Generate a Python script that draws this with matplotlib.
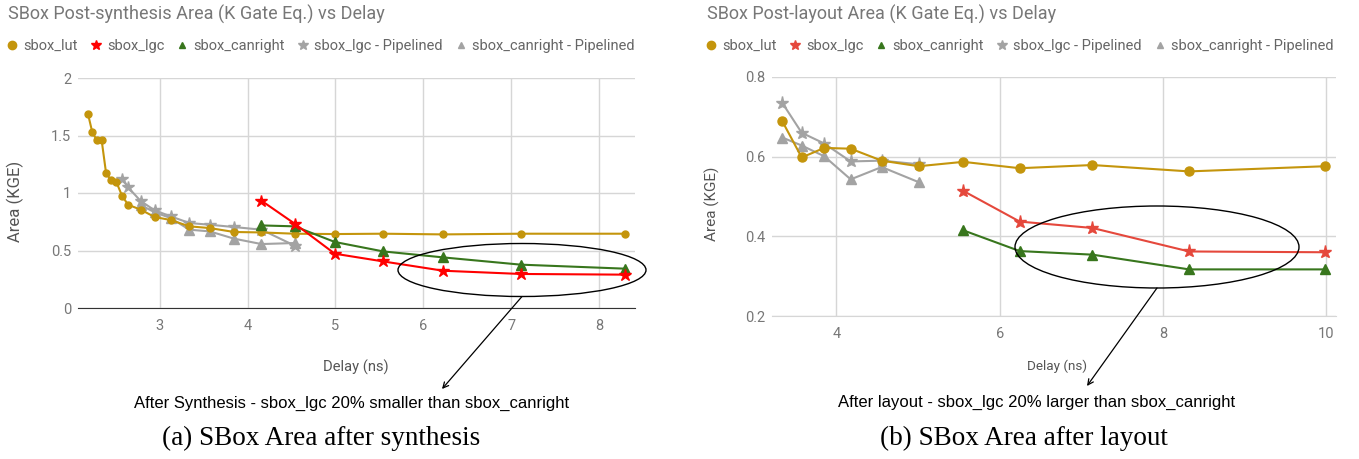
import matplotlib.pyplot as plt
from matplotlib.patches import Ellipse
from matplotlib.lines import Line2D

plt.rcParams['font.family'] = ['Roboto', 'DejaVu Sans']

# ---- post-synthesis data ----
syn_lut_x = [2.183, 2.233, 2.286, 2.339, 2.389, 2.446, 2.507, 2.571, 2.64, 2.784, 2.943,
             3.125, 3.338, 3.57, 3.846, 4.158, 4.537, 4.993, 5.544, 6.227, 7.108, 8.296]
syn_lut_y = [1.69, 1.527, 1.458, 1.46, 1.176, 1.11, 1.095, 0.976, 0.898, 0.855, 0.791,
             0.765, 0.71, 0.695, 0.661, 0.657, 0.646, 0.643, 0.646, 0.64, 0.646, 0.646]
syn_lgc_x = [4.158, 4.537, 4.993, 5.544, 6.227, 7.108, 8.296]
syn_lgc_y = [0.933, 0.733, 0.472, 0.405, 0.324, 0.296, 0.29]
syn_can_x = [4.158, 4.537, 4.993, 5.544, 6.227, 7.108, 8.296]
syn_can_y = [0.718, 0.71, 0.574, 0.492, 0.44, 0.377, 0.342]
syn_lgc_p_x = [2.575, 2.64, 2.784, 2.943, 3.125, 3.338, 3.57, 3.846, 4.158, 4.537]
syn_lgc_p_y = [1.121, 1.049, 0.93, 0.849, 0.797, 0.739, 0.724, 0.704, 0.681, 0.542]
syn_can_p_x = [2.784, 2.943, 3.125, 3.338, 3.57, 3.846, 4.158, 4.537]
syn_can_p_y = [0.895, 0.832, 0.782, 0.681, 0.666, 0.603, 0.556, 0.565]

# ---- post-layout data ----
lay_lut_x = [3.336, 3.574, 3.85, 4.174, 4.554, 5.007, 5.554, 6.245, 7.136, 8.32, 9.99]
lay_lut_y = [0.689, 0.598, 0.622, 0.62, 0.59, 0.576, 0.587, 0.571, 0.579, 0.563, 0.576]
lay_lgc_x = [5.554, 6.245, 7.136, 8.32, 9.99]
lay_lgc_y = [0.514, 0.437, 0.421, 0.362, 0.36]
lay_can_x = [5.554, 6.245, 7.136, 8.32, 9.99]
lay_can_y = [0.415, 0.363, 0.354, 0.317, 0.317]
lay_lgc_p_x = [3.336, 3.574, 3.85, 4.174, 4.554, 5.007]
lay_lgc_p_y = [0.735, 0.66, 0.633, 0.588, 0.59, 0.581]
lay_can_p_x = [3.336, 3.574, 3.85, 4.174, 4.554, 5.007]
lay_can_p_y = [0.648, 0.628, 0.601, 0.543, 0.574, 0.536]

labels = ["sbox_lut", "sbox_lgc", "sbox_canright", "sbox_lgc - Pipelined", "sbox_canright - Pipelined"]
gold = "#c4950c"
green = "#38761d"
gray = "#a3a3a3"
txt_gray = "#777777"

W, H = 1359, 459
fig = plt.figure(figsize=(W / 100, H / 100), dpi=100)


def box(x0, y0, x1, y1):
    return [x0 / W, 1 - y1 / H, (x1 - x0) / W, (y1 - y0) / H]


def fx(x):
    return x / W


def fy(y):
    return 1 - y / H


def style(ax, xlim, ylim, xticks, yticks, ytl, bottom_color, xl_size, yl_size, xl_pos, yl_pos):
    ax.set_xlim(*xlim)
    ax.set_ylim(*ylim)
    ax.set_xticks(xticks)
    ax.set_yticks(yticks)
    ax.set_yticklabels(ytl)
    ax.grid(True, color="#d6d6d6", lw=1)
    ax.set_axisbelow(True)
    for s in ["top", "right", "left"]:
        ax.spines[s].set_visible(False)
    ax.spines["bottom"].set_color(bottom_color)
    ax.tick_params(length=0, labelsize=10.5, colors=txt_gray)
    ax.tick_params(axis="x", pad=8)
    ax.tick_params(axis="y", pad=5)
    ax.set_xlabel("Delay (ns)", fontsize=xl_size, color="#555555", va="center")
    ax.set_ylabel("Area (KGE)", fontsize=yl_size, color="#555555", va="center")
    ax.xaxis.set_label_coords(*xl_pos)
    ax.yaxis.set_label_coords(*yl_pos)


# ---------------- left ----------------
ax1 = fig.add_axes(box(78, 78, 635, 308))
ax1.plot(syn_lut_x, syn_lut_y, color=gold, marker="o", ms=5, lw=1.5, zorder=3)
ax1.plot(syn_lgc_p_x, syn_lgc_p_y, color=gray, marker="*", ms=9, lw=1.5, zorder=2)
ax1.plot(syn_can_p_x, syn_can_p_y, color=gray, marker="^", ms=6.5, lw=1.5, zorder=2)
ax1.plot(syn_can_x, syn_can_y, color=green, marker="^", ms=6.5, lw=1.5, zorder=4)
ax1.plot(syn_lgc_x, syn_lgc_y, color="#ff0000", marker="*", ms=9, lw=1.5, zorder=5)
style(ax1, (2.07, 8.41), (0, 2), [3, 4, 5, 6, 7, 8], [0, 0.5, 1, 1.5, 2],
      ["0", "0.5", "1", "1.5", "2"], "#333333", 10.6, 12,
      (0.499, -0.26), (-0.113, 0.465))

# ---------------- right ----------------
ax2 = fig.add_axes(box(772, 77, 1336, 316))
red2 = "#e5483c"
ax2.plot(lay_lgc_p_x, lay_lgc_p_y, color=gray, marker="*", ms=9.5, lw=1.5, zorder=2)
ax2.plot(lay_can_p_x, lay_can_p_y, color=gray, marker="^", ms=7, lw=1.5, zorder=2)
ax2.plot(lay_lut_x, lay_lut_y, color=gold, marker="o", ms=6.5, lw=1.5, zorder=3)
ax2.plot(lay_can_x, lay_can_y, color=green, marker="^", ms=7, lw=1.5, zorder=4)
ax2.plot(lay_lgc_x, lay_lgc_y, color=red2, marker="*", ms=9.5, lw=1.5, zorder=5)
style(ax2, (3.21, 10.12), (0.2, 0.8), [4, 6, 8, 10], [0.2, 0.4, 0.6, 0.8],
      ["0.2", "0.4", "0.6", "0.8"], "#d6d6d6", 9.7, 11,
      (0.505, -0.209), (-0.106, 0.469))

# ---------------- titles & legends ----------------
for x0, title, red in [(8, "SBox Post-synthesis Area (K Gate Eq.) vs Delay", "#ff0000"),
                       (707, "SBox Post-layout Area (K Gate Eq.) vs Delay", red2)]:
    fig.text(fx(x0), fy(14), title, fontsize=13, color=txt_gray, va="center", ha="left")
    handles = [
        Line2D([], [], ls="none", marker="o", color=gold, ms=6),
        Line2D([], [], ls="none", marker="*", color=red, ms=7),
        Line2D([], [], ls="none", marker="^", color=green, ms=5),
        Line2D([], [], ls="none", marker="*", color=gray, ms=7),
        Line2D([], [], ls="none", marker="^", color=gray, ms=5),
    ]
    leg = fig.legend(handles, labels, loc="center left", bbox_to_anchor=(fx(x0), fy(46)),
                     ncol=5, frameon=False, fontsize=10.5, handlelength=0.6,
                     handletextpad=0.45, columnspacing=0.95, borderaxespad=0, borderpad=0)
    for t in leg.get_texts():
        t.set_color("#666666")

# ---------------- annotations ----------------
fig.patches.append(Ellipse((fx(522), fy(270)), 248 / W, 53 / H, fill=False, ec="black",
                           lw=1, transform=fig.transFigure, figure=fig))
fig.patches.append(Ellipse((fx(1157), fy(247)), 284 / W, 82 / H, fill=False, ec="black",
                           lw=1, transform=fig.transFigure, figure=fig))
fig.add_artist(plt.Annotation("", xy=(fx(442), fy(389)), xytext=(fx(522), fy(296.5)),
                              xycoords="figure fraction", textcoords="figure fraction",
                              arrowprops=dict(arrowstyle="->", color="black", lw=0.9,
                                              shrinkA=0, shrinkB=0)))
fig.add_artist(plt.Annotation("", xy=(fx(1087), fy(386)), xytext=(fx(1157), fy(288)),
                              xycoords="figure fraction", textcoords="figure fraction",
                              arrowprops=dict(arrowstyle="->", color="black", lw=0.9,
                                              shrinkA=0, shrinkB=0)))

fig.text(fx(352), fy(403), "After Synthesis - sbox_lgc 20% smaller than sbox_canright",
         family="Liberation Sans", fontsize=12, color="black", ha="center", va="center")
fig.text(fx(1037), fy(402), "After layout - sbox_lgc 20% larger than sbox_canright",
         family="Liberation Sans", fontsize=12, color="black", ha="center", va="center")

fig.text(fx(321), fy(438), "(a) SBox Area after synthesis", family="Liberation Serif",
         fontsize=19.5, color="black", ha="center", va="center")
fig.text(fx(1024), fy(438), "(b) SBox Area after layout", family="Liberation Serif",
         fontsize=19.5, color="black", ha="center", va="center")

fig.savefig("out.png", dpi=100)
